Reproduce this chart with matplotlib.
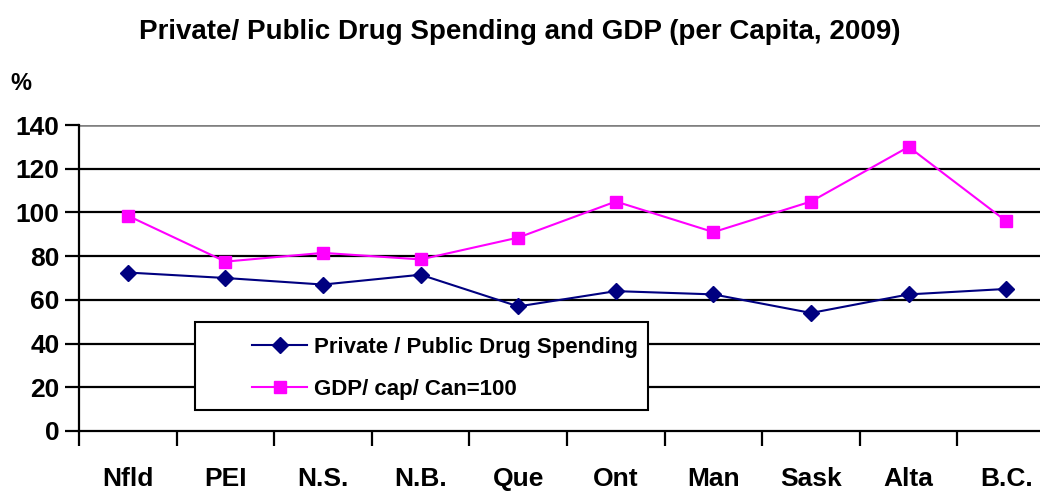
import matplotlib.pyplot as plt
from matplotlib.patches import Rectangle
import numpy as np

plt.rcParams["font.family"] = ["Liberation Sans", "DejaVu Sans"]
plt.rcParams["font.weight"] = "bold"

# ── Data ──────────────────────────────────────────────────────────────────────

provinces = ["Nfld", "PEI", "N.S.", "N.B.", "Que", "Ont", "Man", "Sask", "Alta", "B.C."]
private_public = [72.5, 70, 67, 71.5, 57, 64, 62.5, 54, 62.5, 65]
gdp_per_cap = [98.5, 77.5, 81.5, 78.5, 88.5, 105, 91, 105, 130, 96]
y_ticks = [0, 20, 40, 60, 80, 100, 120, 140]

# ── Plot ──────────────────────────────────────────────────────────────────────

fig = plt.figure(figsize=(10.4, 4.91), dpi=100)
ax = fig.add_axes([0.076, 0.1222, 0.9385, 0.6232])

x = np.arange(len(provinces))

# horizontal grid: black lines, grey line along the top
for v in y_ticks[1:-1]:
    ax.axhline(v, color="black", linewidth=1.6, zorder=1)
ax.axhline(140, color="#808080", linewidth=2.6, zorder=1)

ax.plot(x, private_public, color="#000080", linewidth=1.5, marker="D",
        markersize=8, label="Private / Public Drug Spending", zorder=3)
ax.plot(x, gdp_per_cap, color="#FF00FF", linewidth=1.5, marker="s",
        markersize=9, label="GDP/ cap/ Can=100", zorder=3)

ax.set_xlim(-0.5, len(provinces) - 0.5)
ax.set_ylim(0, 140)
ax.set_yticks(y_ticks)
ax.set_yticklabels([str(v) for v in y_ticks], fontsize=19, fontweight="bold")

# ticks between categories, labels centred under each category
ax.set_xticks(np.arange(-0.5, len(provinces), 1.0))
ax.set_xticklabels([])
ax.set_xticks(x, minor=True)
ax.set_xticklabels(provinces, minor=True, fontsize=19, fontweight="bold")
ax.tick_params(axis="x", which="minor", length=0, pad=26)
ax.tick_params(axis="x", which="major", length=11, width=1.6, direction="out")
ax.tick_params(axis="y", length=10, width=1.6, direction="out", pad=4)

for side in ["top", "right"]:
    ax.spines[side].set_visible(False)
ax.spines["left"].set_linewidth(1.6)
ax.spines["bottom"].set_linewidth(1.6)

# legend box drawn separately so the entries can sit off-centre inside it
box = Rectangle((0.119, 0.069), 0.464, 0.287, transform=ax.transAxes,
                facecolor="white", edgecolor="black", linewidth=1.5, zorder=4)
ax.add_patch(box)
leg = ax.legend(loc="upper left", bbox_to_anchor=(0.177, 0.307), frameon=False,
                handlelength=2.5, handletextpad=0.3, borderpad=0, labelspacing=0.95,
                borderaxespad=0, prop={"weight": "bold", "size": 16})
leg.set_zorder(5)

fig.text(0.5, 0.935, "Private/ Public Drug Spending and GDP (per Capita, 2009)",
         ha="center", va="center", fontsize=20, fontweight="bold")
fig.text(0.02, 0.83, "%", ha="center", va="center", fontsize=17, fontweight="bold")

plt.savefig("out.png", dpi=100)
plt.close()
